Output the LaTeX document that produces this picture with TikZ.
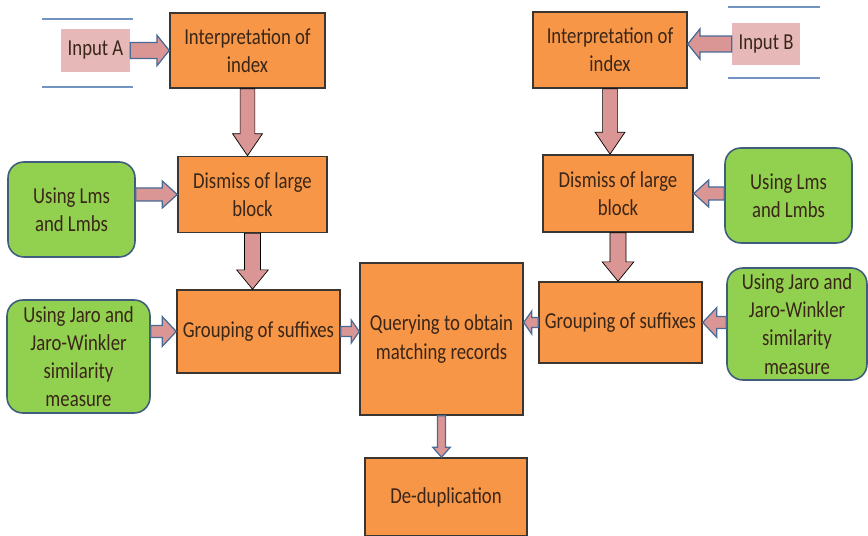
\documentclass[tikz,border=0pt]{standalone}
\usepackage{fontspec}
\setmainfont[FakeStretch=0.82]{Carlito}
\usetikzlibrary{calc}
\usetikzlibrary{positioning}

\definecolor{boxorange}{HTML}{F79646}
\definecolor{boxedge}{HTML}{3B3631}
\definecolor{limegreen}{HTML}{92D050}
\definecolor{greenedge}{HTML}{3F5E7E}
\definecolor{inputpink}{HTML}{E6B9B8}
\definecolor{arrowpink}{HTML}{D99694}
\definecolor{arrowedge}{HTML}{4A6A96}
\definecolor{ruleblue}{HTML}{7393C2}
\definecolor{textdark}{HTML}{3A2618}

\tikzset{x=0.02cm, y=-0.02cm,
every node/.style={ % text of all boxes
text=textdark,
font=\fontsize{13}{16}\selectfont,
align=center},
stepbox/.style={ % orange processing steps
draw=boxedge,
fill=boxorange,
line width=0.9pt},
helperbox/.style={ % green side inputs
draw=greenedge,
fill=limegreen,
rounded corners=9pt,
line width=0.9pt},
inputbox/.style={ % pink data sources
fill=inputpink},
barrow/.style={ % block arrow with blue rim
fill=arrowpink,
draw=arrowedge,
line width=0.7pt},
fatarrow/.style={ % block arrow without rim
fill=arrowpink}}

% block arrow: [style] {shaft half} {head half} {head length} {from} {to}
\newcommand{\blockarrow}[6][barrow]{%
\draw[#1] let \p1=(#5), \p2=(#6),
\n1={atan2(\y2-\y1,\x2-\x1)}, \n2={veclen(\x2-\x1,\y2-\y1)} in
[shift={(\p1)}, rotate=\n1]
(0pt,-#2) -- ({\n2-#4},-#2) -- ({\n2-#4},-#3) -- (\n2,0pt)
-- ({\n2-#4},#3) -- ({\n2-#4},#2) -- (0pt,#2) -- cycle;}

\begin{document}
\begin{tikzpicture}
	\useasboundingbox (0,0) rectangle (868,536);
	% left branch
	\node[inputbox, minimum width=1.38cm, minimum height=0.86cm] (inA) at (95.5,50.5) {Input A};
	\node[stepbox, minimum width=3.1cm, minimum height=1.5cm] (interpA) at (247.5,50.5) {Interpretation of\\index};
	\node[stepbox, minimum width=2.98cm, minimum height=1.52cm] (dismissA) at (252.5,194.5) {Dismiss of large\\block};
	\node[helperbox, minimum width=2.54cm, minimum height=1.9cm] (lmsA) at (71.5,209.5) {Using Lms\\and Lmbs};
	\node[stepbox, minimum width=3.06cm, minimum height=1.66cm] (groupA) at (258.5,331.5) {Grouping of suffixes};
	\node[helperbox, minimum width=2.86cm, minimum height=2.26cm, inner sep=1pt] (jaroA) at (78.5,356.5) {Using Jaro and\\Jaro-Winkler\\similarity\\measure};
	% centre
	\node[stepbox, minimum width=3.26cm, minimum height=3.04cm] (query) at (441.5,339) {Querying to obtain\\matching records};
	\node[stepbox, minimum width=3.24cm, minimum height=1.56cm] (dedup) at (446,497) {De-duplication};
	% right branch
	\node[inputbox, minimum width=1.36cm, minimum height=0.84cm] (inB) at (766,44) {Input B};
	\node[stepbox, minimum width=3.08cm, minimum height=1.52cm] (interpB) at (610,50) {Interpretation of\\index};
	\node[stepbox, minimum width=3cm, minimum height=1.54cm] (dismissB) at (618,193.5) {Dismiss of large\\block};
	\node[helperbox, minimum width=2.54cm, minimum height=1.9cm] (lmsB) at (788.5,195.5) {Using Lms\\and Lmbs};
	\node[stepbox, minimum width=3.1cm, minimum height=1.62cm] (groupB) at (620.5,322.5) {Grouping of suffixes};
	\node[helperbox, minimum width=2.8cm, minimum height=2.24cm, inner sep=1pt] (jaroB) at (797,324) {Using Jaro and\\Jaro-Winkler\\similarity\\measure};

	% rules round the inputs
	\coordinate (ruleA1) at (42,19);
	\coordinate (ruleA2) at (42,87);
	\coordinate (ruleB1) at (728,7);
	\coordinate (ruleB2) at (728,78);
	\draw[ruleblue, line width=1pt] (ruleA1) -- ++(91,0) (ruleA2) -- ++(91,0);
	\draw[ruleblue, line width=1pt] (ruleB1) -- ++(92,0) (ruleB2) -- ++(92,0);

	% arrows, left
	\blockarrow{4.5pt}{8.7pt}{7pt}{inA.east}{inA.east -| interpA.west}
	\blockarrow[fatarrow]{4.2pt}{8.5pt}{12.5pt}{interpA.south}{interpA.south |- dismissA.north}
	\blockarrow{3.7pt}{7.7pt}{8.5pt}{dismissA.west -| lmsA.east}{dismissA.west}
	\blockarrow[fatarrow]{4.6pt}{9pt}{11pt}{dismissA.south}{dismissA.south |- groupA.north}
	\blockarrow{3.4pt}{8.5pt}{8pt}{groupA.west -| jaroA.east}{groupA.west}
	\blockarrow{2.8pt}{6.5pt}{4.5pt}{groupA.east}{groupA.east -| query.west}
	% arrows, centre and right
	\blockarrow{2.3pt}{5pt}{5.7pt}{query.south}{query.south |- dedup.north}
	\blockarrow{4.5pt}{8.7pt}{7pt}{inB.west}{inB.west -| interpB.east}
	\blockarrow[fatarrow]{4.2pt}{8.5pt}{12.5pt}{interpB.south}{interpB.south |- dismissB.north}
	\blockarrow{3.7pt}{7.7pt}{8.5pt}{dismissB.east -| lmsB.west}{dismissB.east}
	\blockarrow[fatarrow]{4.6pt}{9pt}{11pt}{dismissB.south}{dismissB.south |- groupB.north}
	\blockarrow{3.4pt}{8.5pt}{8pt}{groupB.east -| jaroB.west}{groupB.east}
	\blockarrow{2.8pt}{6.5pt}{4.5pt}{groupB.west}{groupB.west -| query.east}
\end{tikzpicture}
\end{document}
